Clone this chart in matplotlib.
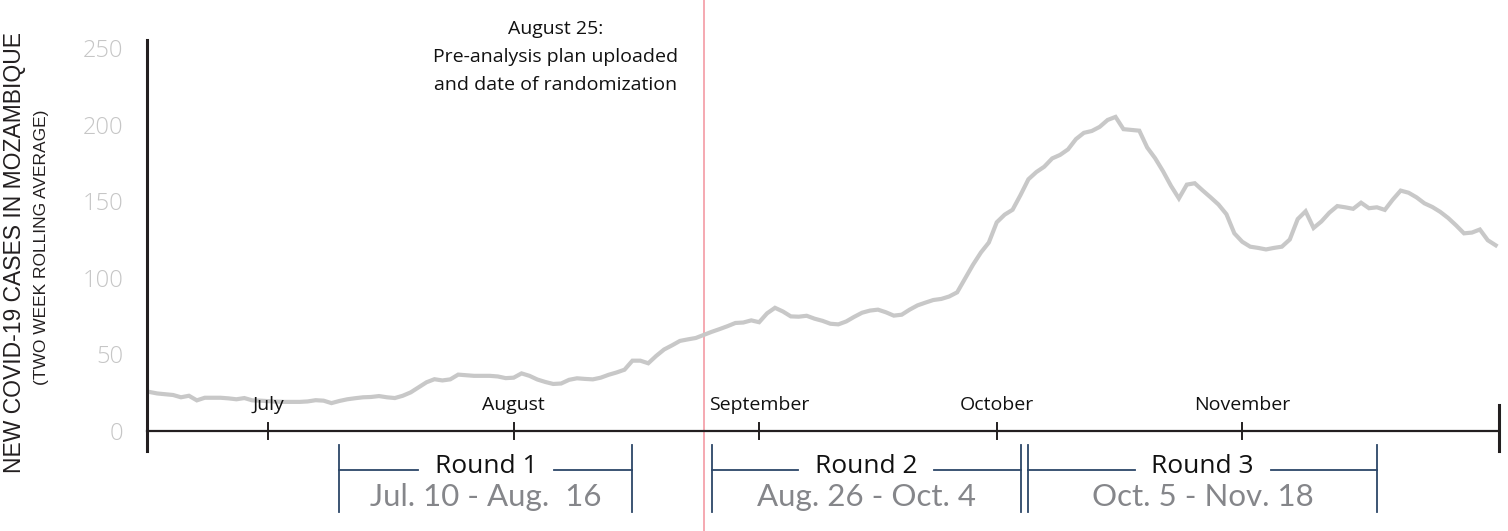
import numpy as np
import pandas as pd
import matplotlib
matplotlib.use("Agg")
import matplotlib.pyplot as plt
import matplotlib.transforms as mtransforms

# daily two-week rolling average of new cases, starting 16 June 2020
start_date = "2020-06-16"
cases = [
    25.5, 24.5, 24, 23.5, 22, 23, 20, 21.7, 21.7, 21.7, 21.3, 20.7, 21.5, 20, 19.8,
    19.5, 19.2, 19, 19, 19, 19.3, 20.1, 19.8, 18.2, 19.6, 20.7, 21.4, 22, 22.2, 22.8,
    22, 21.5, 23, 25.2, 28.5, 31.8, 33.8, 33, 33.7, 36.8, 36.4, 36, 36, 36, 35.6, 34.5,
    34.8, 37.6, 36, 33.6, 32, 30.7, 31, 33.4, 34.4, 34, 33.7, 34.8, 36.7, 38.2, 40,
    45.9, 45.9, 44.2, 49, 53.2, 55.9, 58.8, 59.8, 60.7, 62.7, 64.7, 66.5, 68.4, 70.5,
    70.8, 72.2, 71, 76.8, 80.4, 78, 74.8, 74.6, 75.2, 73.3, 71.9, 70, 69.6, 71.5, 74.5,
    77.2, 78.6, 79.2, 77.5, 75.3, 75.9, 79.2, 82, 83.8, 85.5, 86.2, 87.8, 90.5, 99.5,
    108.5, 116.5, 123, 136.2, 141.2, 144.4, 154, 164.3, 169, 172.5, 177.9, 180.2, 183.8,
    190.5, 194.6, 195.8, 198.5, 203, 205, 197, 196.5, 196, 185, 178, 169.5, 160, 151.8,
    160.8, 161.7, 157, 152.5, 147.8, 141.5, 129, 123.5, 120.3, 119.5, 118.5, 119.5,
    120.3, 125, 138.3, 143.4, 132.5, 136.8, 142.5, 146.8, 146, 145, 149, 145.4, 146,
    144.3, 151, 156.9, 155.5, 152.5, 148.6, 146.2, 143, 139, 134.2, 129, 129.5, 131.5,
    124.5, 121.2,
]
dates = pd.date_range(start_date, periods=len(cases), freq="D")

months = ["July", "August", "September", "October", "November"]
month_starts = pd.to_datetime(["2020-07-01", "2020-08-01", "2020-09-01",
                               "2020-10-01", "2020-11-01"])
yticks = [0, 50, 100, 150, 200, 250]

pap_date = pd.Timestamp("2020-08-25")
pap_text = "August 25:\nPre-analysis plan uploaded\nand date of randomization"

round_names = ["Round 1", "Round 2", "Round 3"]
round_starts = pd.to_datetime(["2020-07-10", "2020-08-26", "2020-10-05"])
round_ends = pd.to_datetime(["2020-08-16", "2020-10-04", "2020-11-18"])
round_labels = ["Jul. 10 - Aug.  16", "Aug. 26 - Oct. 4", "Oct. 5 - Nov. 18"]

axis_col = "#231f20"
line_col = "#c8c8c8"
navy = "#2c4668"

fig = plt.figure(figsize=(15.08, 5.31), dpi=100)
ax = fig.add_axes([147 / 1508, 100 / 531, 1352 / 1508, 0.7358])
ax.set_xlim(pd.Timestamp("2020-06-15 17:00"), pd.Timestamp("2020-12-03 10:00"))
ax.set_ylim(0, 255)
for s in ax.spines.values():
    s.set_visible(False)

ax.plot(dates, cases, color=line_col, lw=3, solid_joinstyle="miter", zorder=2)

# axis lines drawn by hand (they run past the plot area)
ytr = ax.get_yaxis_transform()
ax.plot([0, 0], [-13, 255], transform=ytr, color=axis_col, lw=2.2, clip_on=False)
ax.plot([0, 1], [0, 0], transform=ytr, color=axis_col, lw=1.6, clip_on=False)
ax.plot([1, 1], [-13, 17], transform=ytr, color=axis_col, lw=2.2, clip_on=False)
for d, name in zip(month_starts, months):
    ax.plot([d, d], [-5, 5], color=axis_col, lw=1.4, clip_on=False)
    ax.text(d, 17, name, ha="center", va="center", fontsize=14,
            family="Open Sans", color="#111111")

ax.set_xticks([])
ax.set_yticks(yticks)
ax.set_yticklabels([str(v) for v in yticks], family="Open Sans",
                   fontweight="light", fontsize=17, color="#c6c6c6")
ax.tick_params(axis="y", length=0, pad=17)

fig.text(15 / 1508, 1 - 252 / 531, "NEW COVID-19 CASES IN MOZAMBIQUE",
         rotation=90, ha="center", va="center", fontsize=16.5,
         family="Liberation Sans", color="#231f20")
fig.text(42 / 1508, 1 - 247 / 531, "(TWO WEEK ROLLING AVERAGE)",
         rotation=90, ha="center", va="center", fontsize=12.5,
         family="Liberation Sans", color="#231f20")

# randomization date
xtr = mtransforms.blended_transform_factory(ax.transData, fig.transFigure)
ax.plot([pap_date, pap_date], [0, 1], transform=xtr, color="#f4a3ab",
        lw=1.3, clip_on=False, zorder=1)
fig.text(556 / 1508, 1 - 57 / 531, pap_text, ha="center", va="center",
         fontsize=14, family="Open Sans", linespacing=1.68, color="#111111")

# survey rounds
y_top, y_bot, y_mid, y_date = 1 - 445 / 531, 1 - 512 / 531, 1 - 470 / 531, 1 - 497 / 531
for name, s, e, lab in zip(round_names, round_starts, round_ends, round_labels):
    for d in (s, e):
        ax.plot([d, d], [y_bot, y_top], transform=xtr, color=navy, lw=1.3,
                clip_on=False)
    mid = s + (e - s) / 2
    gap = pd.Timedelta(days=8.6)
    ax.plot([s, mid - gap], [y_mid, y_mid], transform=xtr, color=navy, lw=1.3,
            clip_on=False)
    ax.plot([mid + gap, e], [y_mid, y_mid], transform=xtr, color=navy, lw=1.3,
            clip_on=False)
    ax.text(mid, y_mid + 0.006, name, transform=xtr, ha="center", va="center",
            fontsize=19, family="Open Sans", color="#111111")
    ax.text(mid, y_date, lab, transform=xtr, ha="center", va="center",
            fontsize=22.5, family="Lato", color="#85868a")

fig.savefig("out.png", dpi=100)
